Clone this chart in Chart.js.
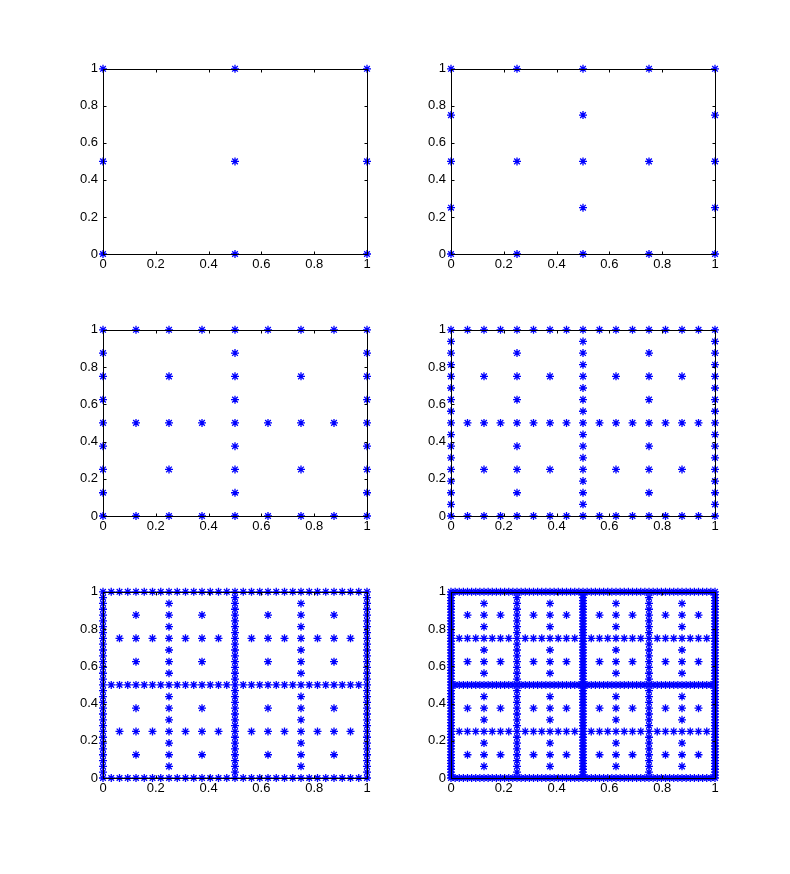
<!DOCTYPE html>
<html><head><meta charset="utf-8">
<script src="https://cdn.jsdelivr.net/npm/chart.js@4.4.1/dist/chart.umd.min.js"></script>
<style>
html,body{margin:0;padding:0;background:#fff;}
body{width:790px;height:874px;position:relative;overflow:hidden;}
canvas{position:absolute;}
</style></head><body>
<canvas id="p1"></canvas><canvas id="p2"></canvas>
<canvas id="p3"></canvas><canvas id="p4"></canvas>
<canvas id="p5"></canvas><canvas id="p6"></canvas>
<script>
// ---- data: 1D hierarchical level point sets and the sparse-grid level per subplot ----
const subplotLevels = [1, 2, 3, 4, 5, 6];
const level1 = [0, 0.5, 1];
const level2 = [0.25, 0.75];
const level3 = [0.125, 0.375, 0.625, 0.875];
const level4 = [0.0625, 0.1875, 0.3125, 0.4375, 0.5625, 0.6875, 0.8125, 0.9375];
const level5 = [0.03125, 0.09375, 0.15625, 0.21875, 0.28125, 0.34375, 0.40625, 0.46875,
                0.53125, 0.59375, 0.65625, 0.71875, 0.78125, 0.84375, 0.90625, 0.96875];
const level6 = [0.015625, 0.046875, 0.078125, 0.109375, 0.140625, 0.171875, 0.203125, 0.234375,
                0.265625, 0.296875, 0.328125, 0.359375, 0.390625, 0.421875, 0.453125, 0.484375,
                0.515625, 0.546875, 0.578125, 0.609375, 0.640625, 0.671875, 0.703125, 0.734375,
                0.765625, 0.796875, 0.828125, 0.859375, 0.890625, 0.921875, 0.953125, 0.984375];
const xTicks = [0, 0.2, 0.4, 0.6, 0.8, 1];
const yTicks = [0, 0.2, 0.4, 0.6, 0.8, 1];
const tickLabels = ['0', '0.2', '0.4', '0.6', '0.8', '1'];

const levels = [level1, level2, level3, level4, level5, level6];

// sparse grid: tensor products of levels l1,l2 with l1 + l2 <= n + 1
function gridPoints(n) {
  const pts = [];
  for (let l1 = 1; l1 <= n; l1++) {
    for (let l2 = 1; l2 <= n + 1 - l1; l2++) {
      for (const x of levels[l1 - 1]) for (const y of levels[l2 - 1]) pts.push({x, y});
    }
  }
  return pts;
}

// ---- layout ----
const L = 40, T = 10, R = 12, B = 30, W = 264;
const colLeft = [103, 451];
const rowTop = [66, 327, 589];
const rowH = [188, 189, 189];

Chart.defaults.font.family = "'Liberation Sans', Arial, Helvetica, sans-serif";
Chart.defaults.font.size = 13;
Chart.defaults.color = '#000';

const boxPlugin = {
  id: 'matlabBox',
  afterDatasetsDraw(chart) {
    const ctx = chart.ctx, a = chart.chartArea, xs = chart.scales.x, ys = chart.scales.y;
    const l = Math.round(a.left) + 0.5, r = Math.round(a.right) + 0.5;
    const t = Math.round(a.top) + 0.5, b = Math.round(a.bottom) + 0.5;
    ctx.save();
    ctx.strokeStyle = '#000';
    ctx.lineWidth = 1;
    ctx.beginPath();
    ctx.rect(l, t, r - l, b - t);
    const tk = 3;
    for (const v of xTicks) {
      const px = Math.round(xs.getPixelForValue(v)) + 0.5;
      ctx.moveTo(px, b); ctx.lineTo(px, b - tk);
      ctx.moveTo(px, t); ctx.lineTo(px, t + tk);
    }
    for (const v of yTicks) {
      const py = Math.round(ys.getPixelForValue(v)) + 0.5;
      ctx.moveTo(l, py); ctx.lineTo(l + tk, py);
      ctx.moveTo(r, py); ctx.lineTo(r - tk, py);
    }
    ctx.stroke();
    ctx.restore();
  }
};

subplotLevels.forEach((n, i) => {
  const col = i % 2, row = Math.floor(i / 2);
  const cv = document.getElementById('p' + (i + 1));
  const h = rowH[row];
  cv.width = L + W + R;
  cv.height = T + h + B;
  cv.style.left = (colLeft[col] - L) + 'px';
  cv.style.top = (rowTop[row] - T) + 'px';
  new Chart(cv, {
    type: 'scatter',
    data: {
      datasets: [{
        data: gridPoints(n),
        pointStyle: 'star',
        pointRadius: 4,
        pointBorderWidth: 1.3,
        borderColor: '#0000ff',
        backgroundColor: '#0000ff',
        showLine: false,
        clip: false
      }]
    },
    options: {
      responsive: false,
      animation: false,
      devicePixelRatio: 1,
      events: [],
      layout: { padding: { left: 0, top: T, right: R, bottom: 0 } },
      plugins: { legend: { display: false }, tooltip: { enabled: false } },
      scales: {
        x: {
          type: 'linear', min: 0, max: 1,
          grid: { display: false, drawTicks: false },
          border: { display: false },
          afterFit: s => { s.height = B; },
          afterBuildTicks: s => { s.ticks = xTicks.map(v => ({value: v})); },
          ticks: { padding: 3, maxRotation: 0, autoSkip: false, color: '#000',
                   callback: (v, idx) => tickLabels[idx] }
        },
        y: {
          type: 'linear', min: 0, max: 1,
          grid: { display: false, drawTicks: false },
          border: { display: false },
          afterFit: s => { s.width = L; },
          afterBuildTicks: s => { s.ticks = yTicks.map(v => ({value: v})); },
          ticks: { padding: 5, autoSkip: false, color: '#000',
                   callback: (v, idx) => tickLabels[idx] }
        }
      }
    },
    plugins: [boxPlugin]
  });
});
</script>
</body></html>
